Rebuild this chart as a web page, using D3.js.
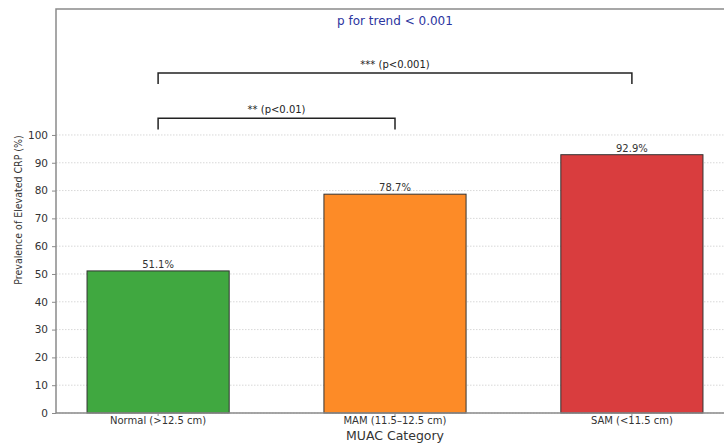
<!DOCTYPE html>
<html><head><meta charset="utf-8">
<script src="https://cdn.jsdelivr.net/npm/d3@7"></script>
<style>
body{margin:0;background:#fff;}
text{font-family:"DejaVu Sans",sans-serif;}
</style></head>
<body>
<svg id="c" width="724" height="443"></svg>
<script>
const categories = ["Normal (>12.5 cm)", "MAM (11.5\u201312.5 cm)", "SAM (<11.5 cm)"];
const values = [51.1, 78.7, 92.9];
const colors = ["#40a840", "#fd8b27", "#d93d3e"];
const yTicks = [0,10,20,30,40,50,60,70,80,90,100];
const brackets = [
  {from:0, to:1, y:106, leg:4, label:"** (p<0.01)"},
  {from:0, to:2, y:122.3, leg:4, label:"*** (p<0.001)"}
];
const trendLabel = "p for trend < 0.001";

const svg = d3.select("#c");
const mLeft = 56, mTop = 9, mBottom = 413, mRight = 734;
const x = d3.scaleBand().domain(categories).range([mLeft, mRight]).paddingInner(0.4).paddingOuter(0.131);
const y = d3.scaleLinear().domain([0, 145.3]).range([mBottom, mTop]);
const FONT = "'DejaVu Sans',sans-serif";

// grid
svg.append("g").selectAll("line").data(yTicks).join("line")
  .attr("x1", mLeft).attr("x2", mRight).attr("y1", d=>y(d)).attr("y2", d=>y(d))
  .attr("stroke", "#d8d8d8").attr("stroke-width", 1).attr("stroke-dasharray", "1.5,1.5");

// bars
svg.append("g").selectAll("rect").data(values).join("rect")
  .attr("x", (d,i)=>x(categories[i])).attr("width", x.bandwidth())
  .attr("y", d=>y(d)).attr("height", d=>y(0)-y(d))
  .attr("fill", (d,i)=>colors[i]).attr("stroke", "#333").attr("stroke-width", 1);

// value labels
svg.append("g").selectAll("text").data(values).join("text")
  .attr("x", (d,i)=>x(categories[i]) + x.bandwidth()/2).attr("y", d=>y(d)-3)
  .attr("text-anchor", "middle").attr("font-size", 10).attr("fill", "#333")
  .text(d=>d.toFixed(1)+"%");

// frame
svg.append("path").attr("d", `M${mRight},${mTop}H${mLeft}V${mBottom}H${mRight}`)
  .attr("fill", "none").attr("stroke", "#8a8a8a").attr("stroke-width", 1.5);

// axes
const ya = svg.append("g").attr("transform", `translate(${mLeft},0)`)
  .call(d3.axisLeft(y).tickValues(yTicks).tickSize(4).tickPadding(4));
ya.select(".domain").remove();
ya.selectAll("line").attr("stroke", "#8a8a8a");
ya.selectAll("text").attr("font-size", 10.5).attr("fill", "#333").style("font-family", FONT);

const xa = svg.append("g").attr("transform", `translate(0,${mBottom})`)
  .call(d3.axisBottom(x).tickSize(3).tickPadding(1));
xa.select(".domain").remove();
xa.selectAll("line").attr("stroke", "#8a8a8a");
xa.selectAll("text").attr("font-size", 10).attr("fill", "#333").style("font-family", FONT);

const cx = i => x(categories[i]) + x.bandwidth()/2;

// axis titles
svg.append("text").attr("x", cx(1)).attr("y", 440)
  .attr("text-anchor", "middle").attr("font-size", 12.5).attr("fill", "#333").text("MUAC Category");
svg.append("text").attr("transform", `translate(22,210) rotate(-90)`)
  .attr("text-anchor", "middle").attr("font-size", 10.5).attr("fill", "#333")
  .style("font-family", "'DejaVu Sans Condensed','DejaVu Sans',sans-serif")
  .text("Prevalence of Elevated CRP (%)");

// brackets
const bg = svg.append("g");
brackets.forEach(b => {
  bg.append("path")
    .attr("d", `M${cx(b.from)},${y(b.y - b.leg)}V${y(b.y)}H${cx(b.to)}V${y(b.y - b.leg)}`)
    .attr("fill", "none").attr("stroke", "#222").attr("stroke-width", 1.5);
  bg.append("text").attr("x", (cx(b.from)+cx(b.to))/2).attr("y", y(b.y) - 5)
    .attr("text-anchor", "middle").attr("font-size", 10).attr("fill", "#222").text(b.label);
});

svg.append("text").attr("x", cx(1)).attr("y", 25).attr("text-anchor", "middle")
  .attr("font-size", 12).attr("fill", "#2b35a0").text(trendLabel);
</script>
</body></html>
